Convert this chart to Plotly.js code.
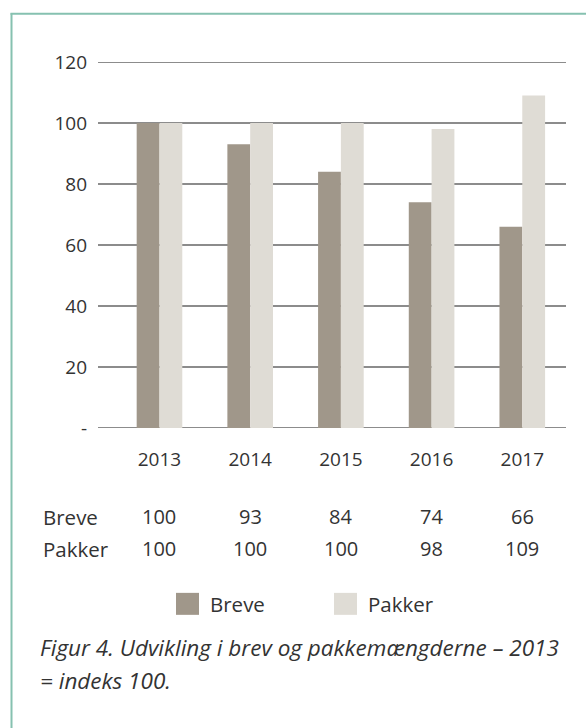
<!DOCTYPE html>
<html>
<head>
<meta charset="utf-8">
<script src="https://cdn.plot.ly/plotly-3.0.1.min.js"></script>
<style>
  html, body { margin: 0; padding: 0; background: #ffffff; }
  #chart { width: 586px; height: 728px; }
</style>
</head>
<body>
<div id="chart"></div>
<script>
// ---- data ----
const years = ['2013', '2014', '2015', '2016', '2017'];
const breve = [100, 93, 84, 74, 66];
const pakker = [100, 100, 100, 98, 109];
const seriesNames = ['Breve', 'Pakker'];
const yTickVals = [0, 20, 40, 60, 80, 100, 120];
const yTickText = ['-', '20', '40', '60', '80', '100', '120'];
const captionLines = ['Figur 4. Udvikling i brev og pakkemængderne – 2013', '= indeks 100.'];

// ---- styling ----
const W = 586, H = 728;
const L = 98, R = 566, T = 61.7, B = 428;
const colBreve = '#a0978a';
const colPakker = '#dfdcd5';
const textCol = '#333333';
const gridCol = '#8c8c8c';
const borderCol = '#86c1b0';
const FONT = '"Open Sans", "DejaVu Sans", sans-serif';

const px = x => (x - L) / (R - L);
const py = y => (B - y) / (B - T);

const traces = [
  { type: 'bar', name: seriesNames[0], x: years, y: breve,
    marker: { color: colBreve, line: { width: 0 } }, showlegend: false },
  { type: 'bar', name: seriesNames[1], x: years, y: pakker,
    marker: { color: colPakker, line: { width: 0 } }, showlegend: false }
];

const annotations = [];
const shapes = [];
// horizontal gridlines at each y tick (drawn beneath the bars)
yTickVals.forEach(v => {
  shapes.push({ type: 'line', layer: 'below', xref: 'paper', yref: 'y', x0: 0, x1: 1, y0: v, y1: v,
    line: { color: gridCol, width: 2 } });
});
// data table below the chart
const rows = [[seriesNames[0], breve, 517], [seriesNames[1], pakker, 549]];
rows.forEach(([label, vals, yy]) => {
  annotations.push({ xref: 'paper', yref: 'paper', x: px(41), y: py(yy), xanchor: 'left', yanchor: 'middle',
    text: label, showarrow: false, font: { family: FONT, size: 20.5, color: textCol } });
  vals.forEach((v, i) => {
    annotations.push({ xref: 'x', yref: 'paper', x: i, y: py(yy), xanchor: 'center', yanchor: 'middle',
      text: String(v), showarrow: false, font: { family: FONT, size: 20, color: textCol } });
  });
});
// legend
const legendItems = [[seriesNames[0], colBreve, 176], [seriesNames[1], colPakker, 334]];
legendItems.forEach(([name, col, x0]) => {
  shapes.push({ type: 'rect', xref: 'paper', yref: 'paper', x0: px(x0), x1: px(x0 + 23), y0: py(615), y1: py(593),
    fillcolor: col, line: { width: 0 } });
  annotations.push({ xref: 'paper', yref: 'paper', x: px(x0 + 32), y: py(604), xanchor: 'left', yanchor: 'middle',
    text: name, showarrow: false, font: { family: FONT, size: 20.5, color: textCol } });
});
// caption
captionLines.forEach((t, i) => {
  annotations.push({ xref: 'paper', yref: 'paper', x: px(38), y: py(648 + i * 33), xanchor: 'left', yanchor: 'middle',
    text: '<i>' + t + '</i>', showarrow: false, font: { family: FONT, size: 22.5, color: textCol } });
});
// frame (top and left lines)
shapes.push({ type: 'line', xref: 'paper', yref: 'paper', x0: px(11.5), x1: px(11.5), y0: py(13), y1: py(740),
  line: { color: borderCol, width: 2 } });
shapes.push({ type: 'line', xref: 'paper', yref: 'paper', x0: px(10.5), x1: px(600), y0: py(13.5), y1: py(13.5),
  line: { color: borderCol, width: 2 } });

const layout = {
  width: W, height: H,
  margin: { l: L, r: W - R, t: T, b: H - B, pad: 0 },
  paper_bgcolor: '#ffffff', plot_bgcolor: 'rgba(0,0,0,0)',
  barmode: 'group', bargap: 0.497, bargroupgap: 0,
  showlegend: false,
  font: { family: FONT, size: 19, color: textCol },
  xaxis: {
    type: 'category', range: [-0.678, 4.482],
    showgrid: false, showline: false, zeroline: false, ticks: '',
    tickfont: { family: FONT, size: 19, color: textCol },
    ticklabelstandoff: 18
  },
  yaxis: {
    type: 'linear', range: [0, 120], tickmode: 'array', tickvals: yTickVals, ticktext: yTickText,
    showgrid: false, zeroline: false, showline: false, ticks: '',
    tickfont: { family: FONT, size: 19, color: textCol },
    ticklabelstandoff: 10
  },
  shapes: shapes,
  annotations: annotations
};

Plotly.newPlot('chart', traces, layout, { displayModeBar: false, staticPlot: true });
</script>
</body>
</html>
